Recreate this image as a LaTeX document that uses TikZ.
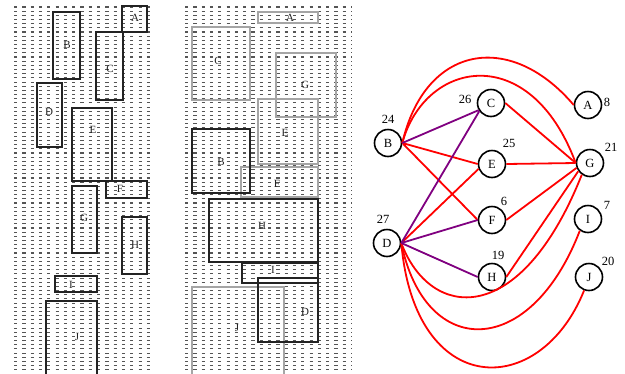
\documentclass[tikz,border=0pt]{standalone}
\usepackage{fontspec}
\setmainfont{Liberation Serif}
\definecolor{ered}{RGB}{255,0,0}
\definecolor{epurple}{RGB}{128,0,128}
\definecolor{dotc}{RGB}{85,85,85}
\definecolor{grayb}{RGB}{165,165,165}
\definecolor{darkb}{RGB}{35,35,35}
\tikzset{
  dotrow/.style={draw=dotc,line width=1.1pt,dash pattern=on 3.2pt off 5.1pt},
  blk/.style={draw=darkb,line width=1.2pt},
  gry/.style={draw=grayb,line width=1.5pt},
  plabel/.style={font=\fontsize{11}{12}\selectfont,text=darkb,inner sep=0pt},
  gnode/.style={circle,draw=black,line width=1.6pt,minimum size=27pt,inner sep=0pt,font=\fontsize{12.5}{14}\selectfont},
  wlabel/.style={font=\fontsize{12.5}{14}\selectfont,inner sep=0pt},
  redge/.style={draw=ered,line width=1.8pt},
  pedge/.style={draw=epurple,line width=1.8pt}
}
\begin{document}
\begin{tikzpicture}[x=1pt,y=-1pt]
\useasboundingbox[fill=white] (0,0) rectangle (625,373);
% ---------- dotted backgrounds ----------
\foreach \y in {7,11.17,...,372} {
  \draw[dotrow] (14,\y) -- (150,\y);
  \draw[dotrow] (185,\y) -- (352,\y);
}
% ---------- left panel ----------
\draw[blk] (122,6) rectangle (147,32);
\node[plabel] (la) at (135,18) {A};
\draw[blk] (53,12) rectangle (80,79);
\node[plabel] (lb) at (67,45) {B};
\draw[blk] (96,32) rectangle (123,100);
\node[plabel] (lc) at (110,69) {C};
\draw[blk] (37,83) rectangle (62,147);
\node[plabel] (ld) at (49,112) {D};
\draw[blk] (72,108) rectangle (112,181);
\node[plabel] (le) at (93,130) {E};
\draw[blk] (106,181) rectangle (147,198);
\node[plabel] (lf) at (120,189) {F};
\draw[blk] (72,186) rectangle (97,253);
\node[plabel] (lg) at (84,218) {G};
\draw[blk] (122,217) rectangle (147,274);
\node[plabel] (lh) at (135,245) {H};
\draw[blk] (55,276) rectangle (97,292);
\node[plabel] (li) at (71,285) {I};
\draw[blk] (46,301) rectangle (97,376);
\node[plabel] (lj) at (77,337) {J};
% ---------- middle panel ----------
\draw[gry] (258,12) rectangle (318,23);
\node[plabel] (ma) at (290,18) {A};
\draw[gry] (192,27) rectangle (250,100);
\node[plabel] (mc) at (218,61) {C};
\draw[gry] (276,53) rectangle (336,117);
\node[plabel] (mg) at (305,85) {G};
\draw[gry] (258,99) rectangle (318,164);
\node[plabel] (me) at (285,133) {E};
\draw[gry] (241,167) rectangle (318,197);
\node[plabel] (mf) at (277,184) {F};
\draw[gry] (192,287) rectangle (284,376);
\node[plabel] (mj) at (237,328) {J};
\draw[blk] (192,129) rectangle (250,193);
\node[plabel] (mb) at (221,162) {B};
\draw[blk] (209,199) rectangle (318,262);
\node[plabel] (mh) at (262,226) {H};
\draw[blk] (242,263) rectangle (318,283);
\node[plabel] (mi) at (273,270) {I};
\draw[blk] (258,278) rectangle (318,342);
\node[plabel] (md) at (305,312) {D};
% ---------- graph nodes ----------
\node[gnode] (B) at (388,143) {B};
\node[gnode] (C) at (491,103) {C};
\node[gnode] (A) at (588,105) {A};
\node[gnode] (E) at (492,164) {E};
\node[gnode] (G) at (590,163) {G};
\node[gnode] (F) at (492,220) {F};
\node[gnode] (I) at (588,219) {I};
\node[gnode] (D) at (387,243) {D};
\node[gnode] (H) at (492,277) {H};
\node[gnode] (J) at (589,277) {J};
% weights
\node[wlabel] (wB) at (388,119) {24};
\node[wlabel] (wC) at (465,99) {26};
\node[wlabel] (wA) at (607,102) {8};
\node[wlabel] (wE) at (509,143) {25};
\node[wlabel] (wG) at (611,147) {21};
\node[wlabel] (wF) at (504,201) {6};
\node[wlabel] (wI) at (607,205) {7};
\node[wlabel] (wD) at (383,219) {27};
\node[wlabel] (wH) at (498,255) {19};
\node[wlabel] (wJ) at (608,261) {20};
% ---------- edges ----------
\draw[redge] (B.east) .. controls (425,45) and (510,30) .. (A.west);
\draw[redge] (B.east) .. controls (425,60) and (530,40) .. (G.west);
\draw[redge] (B.east) -- (E.west);
\draw[redge] (B.east) -- (F.west);
\draw[redge] (D.east) -- (E.200);
\draw[redge] (C.east) -- (G.west);
\draw[redge] (E.east) -- (G.west);
\draw[redge] (F.east) -- (G.200);
\draw[redge] (H.east) -- (G.215);
\draw[redge] (D.east) .. controls (430,320) and (520,330) .. (G.235);
\draw[redge] (D.east) .. controls (425,360) and (530,360) .. (I.235);
\draw[redge] (D.east) .. controls (415,400) and (540,400) .. (J.250);
\draw[pedge] (B.east) -- (C.210);
\draw[pedge] (D.east) -- (C.215);
\draw[pedge] (D.east) -- (F.west);
\draw[pedge] (D.east) -- (H.west);
\end{tikzpicture}
\end{document}
